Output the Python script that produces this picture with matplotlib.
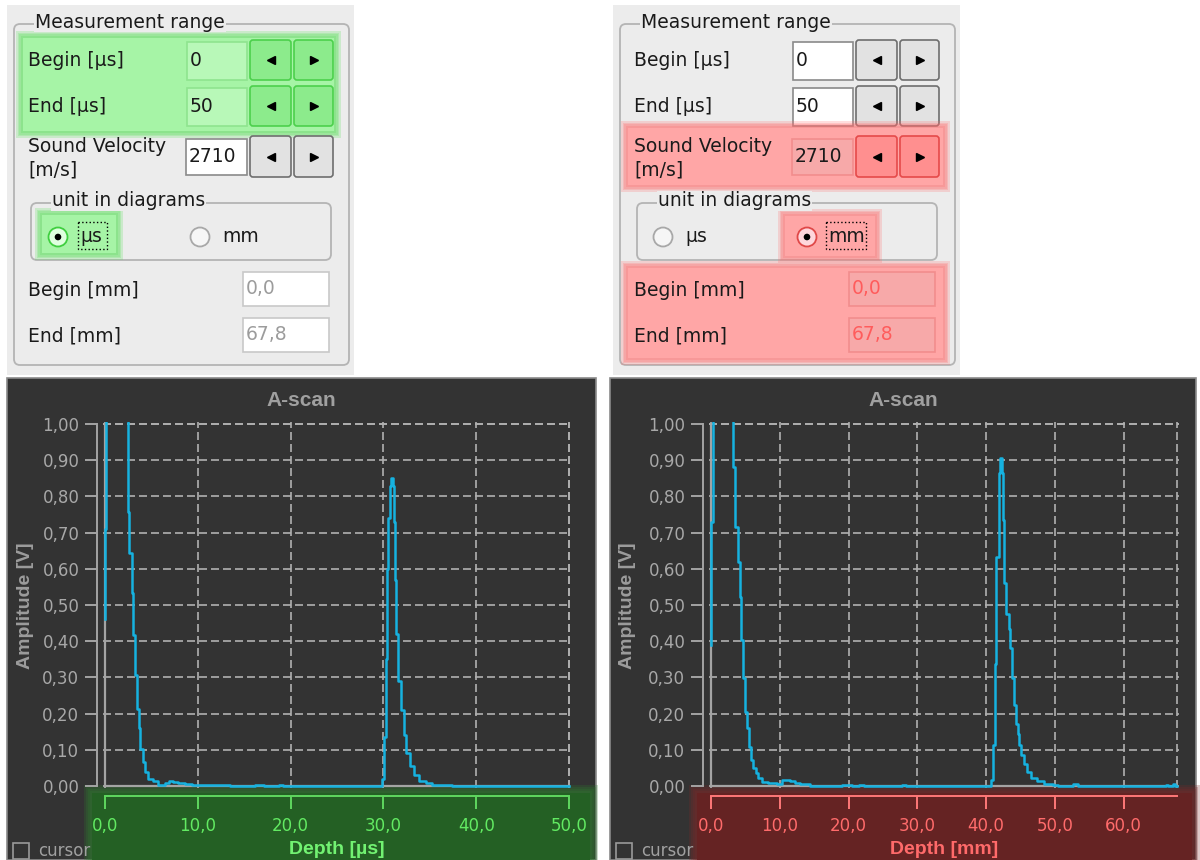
import numpy as np
import matplotlib
matplotlib.use('Agg')
import matplotlib.pyplot as plt
from matplotlib.patches import Rectangle, FancyBboxPatch, Circle
from matplotlib.ticker import FuncFormatter

plt.rcParams['font.family'] = ['DejaVu Sans']

# --- settings shown in the two control panels
begin_us = 0
end_us = 50
velocity = 2710
begin_mm = begin_us * velocity / 2000.0
end_mm = end_us * velocity / 2000.0

# --- A-scan in µs (left), step trace
scan_us_x = [0, 0.03, 0.10, 2.44, 2.51, 2.62, 2.87, 3.05, 3.19, 3.41, 3.62, 3.77,
             4.06, 4.31, 4.67, 5.21, 5.75, 6.47, 6.90, 7.36, 7.90, 8.60, 9.34,
             10.06, 11.9, 13.5, 16.2, 17.1, 18.8, 19.2, 29.85, 30.06, 30.24,
             30.35, 30.49, 30.67, 30.85, 31.00, 31.14, 31.28, 31.39, 31.57,
             31.86, 32.18, 32.47, 32.87, 33.30, 33.84, 34.55, 35.27, 35.99,
             37.43, 50.0]
scan_us_amp = [0.46, 0.71, 1.5, 0.915, 0.758, 0.643, 0.532, 0.417, 0.306, 0.214,
               0.159, 0.103, 0.066, 0.039, 0.020, 0.013, 0.004, 0.009, 0.014,
               0.012, 0.008, 0.006, 0.003, 0.002, 0.003, 0.0, 0.003, 0.0, 0.004,
               0.0, 0.020, 0.135, 0.35, 0.60, 0.74, 0.83, 0.85, 0.83, 0.73,
               0.57, 0.42, 0.29, 0.21, 0.14, 0.09, 0.055, 0.030, 0.015, 0.008,
               0.004, 0.002, 0.0, 0.0]

# --- A-scan in mm (right)
scan_mm_x = [0, 0.02, 0.25, 3.25, 3.54, 3.88, 4.17, 4.37, 4.70, 4.99, 5.24, 5.53,
             5.82, 6.16, 6.55, 6.89, 7.37, 8.34, 9.56, 10.3, 11.5, 12.2, 13.0,
             14.4, 19.0, 20.5, 21.5, 22.2, 27.8, 28.4, 40.76, 41.0, 41.3, 41.48,
             41.82, 42.07, 42.26, 42.41, 42.6, 42.9, 43.28, 43.52, 43.77, 44.0,
             44.3, 44.6, 44.83, 45.12, 45.46, 45.95, 46.53, 47.4, 48.4, 49.7,
             50.5, 52.7, 53.3, 66.1, 66.4, 67.2, 67.5, 67.8]
scan_mm_amp = [0.39, 0.73, 1.5, 0.882, 0.716, 0.62, 0.523, 0.403, 0.297, 0.205,
               0.159, 0.109, 0.072, 0.049, 0.035, 0.021, 0.012, 0.009, 0.005,
               0.016, 0.015, 0.009, 0.005, 0.0, 0.003, 0.0, 0.003, 0.0, 0.003,
               0.0, 0.016, 0.112, 0.338, 0.633, 0.864, 0.905, 0.864, 0.735,
               0.56, 0.476, 0.435, 0.38, 0.297, 0.223, 0.172, 0.145, 0.112,
               0.085, 0.062, 0.039, 0.023, 0.014, 0.006, 0.002, 0.0, 0.005, 0.0,
               0.004, 0.0, 0.005, 0.0, 0.0]

amp_ticks = [0.0, 0.1, 0.2, 0.3, 0.4, 0.5, 0.6, 0.7, 0.8, 0.9, 1.0]
us_ticks = [0, 10, 20, 30, 40, 50]
mm_ticks = [0, 10, 20, 30, 40, 50, 60]

W, H = 1200, 860
fig = plt.figure(figsize=(W / 100, H / 100), dpi=100, facecolor='white')

# ui layer in pixel coordinates
ui = fig.add_axes([0, 0, 1, 1])
ui.set_xlim(0, W)
ui.set_ylim(H, 0)
ui.axis('off')

UIBG = '#ececec'
FRAME = '#b4b4b4'
INK = '#1a1a1a'
UIFS = 13.5


def glow(x0, y0, x1, y1, core, edge, n=4, step=1.8, alpha=0.22):
    for k in range(n, 0, -1):
        d = k * step
        ui.add_patch(Rectangle((x0 - d, y0 - d), x1 - x0 + 2 * d, y1 - y0 + 2 * d,
                               fc=edge, ec='none', alpha=alpha))
    ui.add_patch(Rectangle((x0, y0), x1 - x0, y1 - y0, fc=core, ec='none'))


def textbox(x0, y0, x1, y1, txt, fc='white', ec='#8a8a8a', tc=INK):
    ui.add_patch(Rectangle((x0, y0), x1 - x0, y1 - y0, fc=fc, ec=ec, lw=1.2))
    ui.text(x0 + 3, (y0 + y1) / 2, txt, fontsize=UIFS, color=tc, va='center', ha='left')


def buttons(xa, xb, xc, xd, y0, y1, fc='#e2e2e2', ec='#6e6e6e'):
    for (a, b, m) in [(xa, xb, '<'), (xc, xd, '>')]:
        ui.add_patch(FancyBboxPatch((a, y0), b - a, y1 - y0,
                                    boxstyle='round,pad=0,rounding_size=3',
                                    fc=fc, ec=ec, lw=1.2))
        ui.plot((a + b) / 2, (y0 + y1) / 2, marker=m, ms=5.5, color='black', mec='black')


def radio(cx, cy, sel, fc='#f6f6f6', ec='#a8a8a8'):
    ui.add_patch(Circle((cx, cy), 9.5, fc=fc, ec=ec, lw=1.3))
    if sel:
        ui.add_patch(Circle((cx, cy), 3.3, fc='black', ec='none'))


def group(x0, y0, x1, y1, label, lx):
    ui.add_patch(FancyBboxPatch((x0, y0), x1 - x0, y1 - y0,
                                boxstyle='round,pad=0,rounding_size=6',
                                fc='none', ec=FRAME, lw=1.3))
    ui.text(lx, y0 - 2, label, fontsize=UIFS, color=INK, va='center', ha='left',
            bbox=dict(fc=UIBG, ec='none', pad=0.5))


def control_panel(ox, mode):
    green = mode == 'us'
    ui.add_patch(Rectangle((ox + 7, 5), 347, 370, fc=UIBG, ec='none'))
    group(ox + 14, 24, ox + 349, 365, 'Measurement range', ox + 35)
    lx = ox + 28
    if green:
        glow(ox + 23, 38, ox + 334, 131, '#a6f4a6', '#55e055')
        tb = dict(fc='#b8f8b8', ec='#8fe48f')
        bt = dict(fc='#8ceb8c', ec='#4cd04c')
    else:
        tb = dict()
        bt = dict()
    ui.text(lx, 61, 'Begin [µs]', fontsize=UIFS, color=INK, va='center')
    textbox(ox + 187, 42, ox + 247, 80, str(begin_us), **tb)
    buttons(ox + 250, ox + 291, ox + 294, ox + 333, 40, 80, **bt)
    ui.text(lx, 106, 'End [µs]', fontsize=UIFS, color=INK, va='center')
    textbox(ox + 187, 88, ox + 247, 126, str(end_us), **tb)
    buttons(ox + 250, ox + 291, ox + 294, ox + 333, 86, 126, **bt)

    if not green:
        glow(ox + 22, 128, ox + 337, 185, '#ffa6a6', '#ff6a6a')
        tb2 = dict(fc='#f7a9a9', ec='#f28d8d')
        bt2 = dict(fc='#ff8f8f', ec='#e54a4a')
    else:
        tb2 = dict()
        bt2 = dict()
    ui.text(lx, 146, 'Sound Velocity', fontsize=UIFS, color=INK, va='center')
    ui.text(lx, 170, '[m/s]', fontsize=UIFS, color=INK, va='center')
    textbox(ox + 186, 139, ox + 247, 175, str(velocity), **tb2)
    buttons(ox + 250, ox + 291, ox + 294, ox + 333, 136, 177, **bt2)

    group(ox + 31, 203, ox + 331, 260, 'unit in diagrams', ox + 52)
    if green:
        glow(ox + 42, 215, ox + 116, 253, '#a6f4a6', '#55e055')
        radio(ox + 58, 237, True, fc='#dfffdf', ec='#3fcf3f')
        radio(ox + 200, 237, False)
        ui.text(ox + 80, 237, 'µs', fontsize=UIFS, color=INK, va='center')
        ui.add_patch(Rectangle((ox + 78, 222), 29, 27, fc='none', ec='black', lw=1, ls=':'))
        ui.text(ox + 222, 237, 'mm', fontsize=UIFS, color=INK, va='center')
    else:
        glow(ox + 179, 216, ox + 269, 256, '#ffa6a6', '#ff6a6a')
        radio(ox + 57, 237, False)
        radio(ox + 201, 237, True, fc='#ffd6dc', ec='#e04848')
        ui.text(ox + 79, 237, 'µs', fontsize=UIFS, color=INK, va='center')
        ui.text(ox + 222, 237, 'mm', fontsize=UIFS, color=INK, va='center')
        ui.add_patch(Rectangle((ox + 220, 222), 40, 27, fc='none', ec='black', lw=1, ls=':'))

    if not green:
        glow(ox + 22, 268, ox + 337, 358, '#ffa6a6', '#ff6a6a')
        tb3 = dict(fc='#f7a9a9', ec='#f28d8d', tc='#ff5c5c')
    else:
        tb3 = dict(ec='#c8c8c8', tc='#9c9c9c')
    ui.text(lx, 290, 'Begin [mm]', fontsize=UIFS, color=INK, va='center')
    textbox(ox + 243, 272, ox + 329, 306, f'{begin_mm:.1f}'.replace('.', ','), **tb3)
    ui.text(lx, 336, 'End [mm]', fontsize=UIFS, color=INK, va='center')
    textbox(ox + 243, 318, ox + 329, 352, f'{end_mm:.1f}'.replace('.', ','), **tb3)


control_panel(0, 'us')
control_panel(606, 'mm')

PANEL = '#333333'
GRIDC = '#b0b0b0'
AXC = '#a4a4a4'
TXT = '#a8a8a8'
LINE = '#16b2e0'


def comma(fmt):
    return FuncFormatter(lambda v, p: fmt.format(v).replace('.', ','))


def scan_panel(px0, px1, x0p, x1p, x, amp, xmax, xticks, xlabel,
               band, band_edge, band_ax, band_txt, band_lab, bx0, bx1):
    y0p, y1p = 786, 424
    ui.add_patch(Rectangle((px0, 378), px1 - px0, 482, fc=PANEL, ec='#8a8a8a', lw=1.2))
    glow(bx0, 793, bx1, 866, band, band_edge, n=4, step=2.0, alpha=0.25)
    cx = (px0 + px1) / 2
    ui.text(cx, 401, 'A-scan', fontsize=15, fontweight='bold', color='#a0a0a0',
            ha='center', va='center', family='Liberation Sans')
    ui.text(px0 + 18, 606, 'Amplitude [V]', fontsize=14, fontweight='bold', color='#9c9c9c',
            ha='center', va='center', rotation=90, family='Liberation Sans')
    ui.text((x0p + x1p) / 2, 849, xlabel, fontsize=14, fontweight='bold', color=band_lab,
            ha='center', va='center', family='Liberation Sans')
    ui.add_patch(Rectangle((px0 + 6, 843), 16, 16, fc='none', ec='#9a9a9a', lw=1.2))
    ui.text(px0 + 31, 851, 'cursor', fontsize=12, color='#a0a0a0', va='center')

    pad = 2
    xs = xmax / (x1p - x0p)
    ys = 1.0 / (y0p - y1p)
    ax = fig.add_axes([(x0p - pad) / W, 1 - (y0p + pad) / H,
                       (x1p - x0p + 2 * pad) / W, (y0p - y1p + 2 * pad) / H])
    ax.set_facecolor('none')
    ax.set_xlim(-pad * xs, xmax + pad * xs)
    ax.set_ylim(-pad * ys, 1.0 + pad * ys)
    dash = (0, (4.8, 2.4))
    ax.set_xticks(xticks)
    ax.set_yticks(amp_ticks)
    ax.grid(True, color=GRIDC, lw=1.2, ls=dash)
    ax.axhline(1.0, color=GRIDC, lw=1.2, ls=dash, zorder=1.5)
    ax.axvline(xmax, color=GRIDC, lw=1.2, ls=dash, zorder=1.5)
    ax.axhline(0, xmin=pad / (x1p - x0p + 2 * pad), xmax=1 - pad / (x1p - x0p + 2 * pad),
               color=AXC, lw=1.6, zorder=3)
    ax.axvline(0, ymin=pad / (y0p - y1p + 2 * pad), ymax=1 - pad / (y0p - y1p + 2 * pad),
               color=AXC, lw=1.6, zorder=3)
    ax.plot(x, amp, drawstyle='steps-post', color=LINE, lw=1.8, zorder=4)

    for s in ['top', 'right']:
        ax.spines[s].set_visible(False)
    ax.spines['left'].set_position(('data', -8.5 * xs))
    ax.spines['left'].set_bounds(0, 1)
    ax.spines['left'].set_color(AXC)
    ax.spines['left'].set_linewidth(1.4)
    ax.spines['bottom'].set_position(('data', -10 * ys))
    ax.spines['bottom'].set_bounds(0, xmax)
    ax.spines['bottom'].set_color(band_ax)
    ax.spines['bottom'].set_linewidth(1.4)
    ax.tick_params(axis='y', direction='out', length=9, width=1.4, color=AXC,
                   labelcolor=TXT, labelsize=12, pad=3.4)
    ax.tick_params(axis='x', direction='out', length=9, width=1.4, color=band_ax,
                   labelcolor=band_txt, labelsize=12, pad=6)
    ax.yaxis.set_major_formatter(comma('{:.2f}'))
    ax.xaxis.set_major_formatter(comma('{:.1f}'))
    return ax


scan_panel(7, 596, 105, 569, scan_us_x, scan_us_amp, end_us, us_ticks, 'Depth [µs]',
           '#246024', '#2f7a2f', '#5fd85f', '#62ea62', '#72f272', 92, 590)
scan_panel(610, 1196, 711, 1177, scan_mm_x, scan_mm_amp, end_mm, mm_ticks, 'Depth [mm]',
           '#652323', '#7a2a2a', '#ff7878', '#ff6b6b', '#ff6a6a', 697, 1192)

fig.savefig('out.png', dpi=100, facecolor='white')
